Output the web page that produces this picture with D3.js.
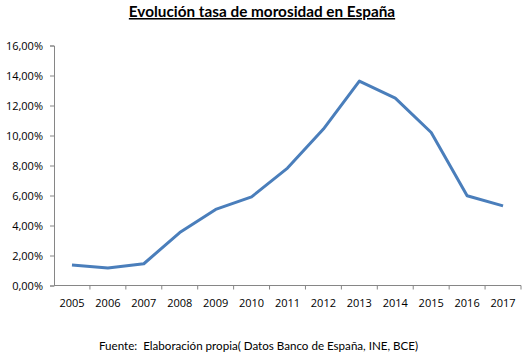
<!DOCTYPE html>
<html>
<head>
<meta charset="utf-8">
<script src="https://cdn.jsdelivr.net/npm/d3@7"></script>
<style>
  body { margin: 0; background: #fff; }
  svg { display: block; }
</style>
</head>
<body>
<svg id="chart" width="527" height="361"></svg>
<script>
const years = ["2005", "2006", "2007", "2008", "2009", "2010", "2011", "2012", "2013", "2014", "2015", "2016", "2017"];
const morosidad = [1.36, 1.16, 1.45, 3.53, 5.07, 5.91, 7.83, 10.43, 13.63, 12.49, 10.2, 5.98, 5.31];
const yTicks = [0, 2, 4, 6, 8, 10, 12, 14, 16];

const svg = d3.select("#chart");
const plotLeft = 54, plotRight = 521, plotTop = 45.5, plotBottom = 285.5;

const x = d3.scaleBand()
    .domain(years)
    .range([plotLeft, plotRight]);

const y = d3.scaleLinear()
    .domain([0, 16])
    .range([plotBottom, plotTop]);

// title
svg.append("text")
    .attr("x", 262)
    .attr("y", 17)
    .attr("text-anchor", "middle")
    .style("font-family", "Lato, sans-serif")
    .style("font-weight", "bold")
    .style("font-size", "15.3px")
    .style("text-decoration", "underline")
    .text("Evolución tasa de morosidad en España");

// y axis
const yAxis = d3.axisLeft(y)
    .tickValues(yTicks)
    .tickSize(4)
    .tickPadding(7)
    .tickFormat(d => d.toFixed(2).replace(".", ",") + "%");

const gy = svg.append("g")
    .attr("transform", `translate(${plotLeft},0)`)
    .call(yAxis);

// x axis, ticks sit between categories
const gx = svg.append("g")
    .attr("transform", `translate(0,${plotBottom})`);

gx.append("line")
    .attr("x1", plotLeft).attr("x2", plotRight)
    .attr("y1", 0).attr("y2", 0)
    .attr("stroke", "#868686");

gx.selectAll(".tk")
    .data(years)
    .enter()
    .append("line")
    .attr("class", "tk")
    .attr("x1", d => x(d) + x.bandwidth())
    .attr("x2", d => x(d) + x.bandwidth())
    .attr("y1", 0).attr("y2", 4)
    .attr("stroke", "#868686");

gx.selectAll(".lbl")
    .data(years)
    .enter()
    .append("text")
    .attr("class", "lbl")
    .attr("x", d => x(d) + x.bandwidth() / 2)
    .attr("y", 21)
    .attr("text-anchor", "middle")
    .style("font-family", "'Open Sans', sans-serif")
    .style("font-size", "11px")
    .attr("fill", "#000")
    .text(d => d);

gy.select(".domain").attr("stroke", "#868686");
gy.selectAll(".tick line").attr("stroke", "#868686");
gy.selectAll(".tick text")
    .style("font-family", "'Open Sans', sans-serif")
    .style("font-size", "11px")
    .attr("fill", "#000");

// line
const line = d3.line()
    .x((d, i) => x(years[i]) + x.bandwidth() / 2)
    .y(d => y(d));

svg.append("path")
    .datum(morosidad)
    .attr("d", line)
    .attr("fill", "none")
    .attr("stroke", "#4a7ebb")
    .attr("stroke-width", 3)
    .attr("stroke-linejoin", "round");

// footer
svg.append("text")
    .attr("x", 99)
    .attr("y", 350)
    .style("font-family", "Lato, sans-serif")
    .style("font-size", "11.6px")
    .style("white-space", "pre")
    .attr("fill", "#000")
    .text("Fuente:  Elaboración propia( Datos Banco de España, INE, BCE)");
</script>
</body>
</html>
